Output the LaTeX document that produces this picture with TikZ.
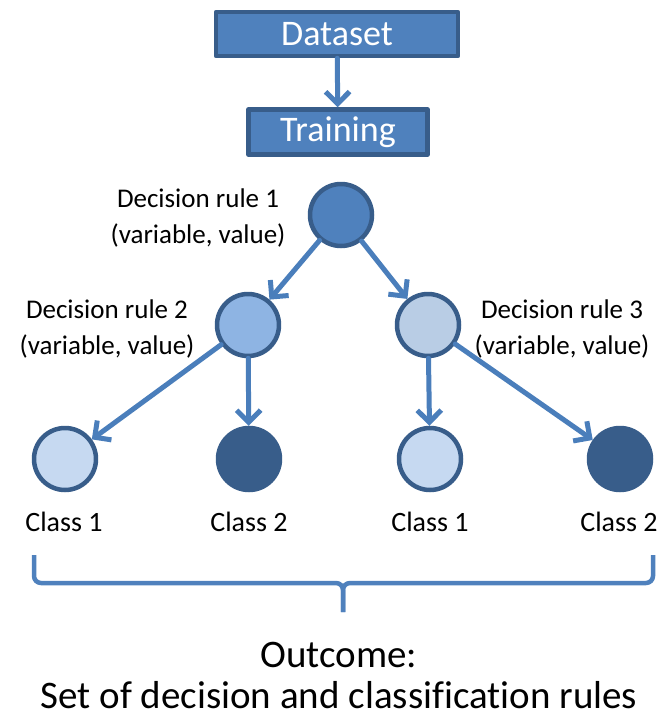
\documentclass[tikz,border=0pt]{standalone}
\usepackage{fontspec}
\setmainfont[Ligatures=NoCommon]{Carlito}
\usetikzlibrary{arrows.meta}

\definecolor{boxblue}{HTML}{4F81BD}
\definecolor{rimblue}{HTML}{385D8A}
\definecolor{linkblue}{HTML}{4A7EBB}
\definecolor{rootblue}{HTML}{4F81BD}
\definecolor{leftblue}{HTML}{8EB4E3}
\definecolor{rightblue}{HTML}{B9CDE5}
\definecolor{paleblue}{HTML}{C6D9F1}
\definecolor{darkblue}{HTML}{385D8A}

\begin{document}
\begin{tikzpicture}[
            x = 1pt, y = -1pt, % one unit per pixel, y runs downwards
            > = {Straight Barb[length=12pt, width=24pt]}, % open arrow head
            line cap = round,
            line join = round
        ]

        \tikzset{
            block/.style = {
                draw = rimblue,
                fill = boxblue,
                line width = 4.5pt,
                text = white,
                inner sep = 0pt,
                font = \fontsize{36}{40}\selectfont
            },
            rulenode/.style = {
                circle,
                draw = rimblue,
                line width = 4.5pt,
                minimum size = 62pt,
                inner sep = 0pt
            },
            leafnode/.style = {
                circle,
                line width = 4.5pt,
                minimum size = 62pt,
                inner sep = 0pt
            },
            link/.style = {->, draw = linkblue, line width = 5pt},
            tag/.style = {align = center, font = \fontsize{27}{36}\selectfont},
            classtag/.style = {font = \fontsize{28}{32}\selectfont}
        }

        \useasboundingbox (0,0) rectangle (668,718);

        % data and training boxes
        \node[block, minimum width = 242pt, minimum height = 44pt] (data) at (337,34) {Dataset};
        \node[block, minimum width = 179pt, minimum height = 45pt] (train) at (338,132) {Training};

        % decision rules
        \node[rulenode, fill = rootblue] (r1) at (341,215) {};
        \node[rulenode, fill = leftblue] (r2) at (248,325) {};
        \node[rulenode, fill = rightblue] (r3) at (428,325) {};

        % class leaves
        \node[leafnode, draw = rimblue, fill = paleblue] (c1) at (65,459) {};
        \node[leafnode, draw = darkblue, fill = darkblue] (c2) at (249,459) {};
        \node[leafnode, draw = rimblue, fill = paleblue] (c3) at (430,459) {};
        \node[leafnode, draw = darkblue, fill = darkblue] (c4) at (620,459) {};

        \node[tag] (t1) at (198,218) {Decision rule 1\\(variable, value)};
        \node[tag] (t2) at (107,329) {Decision rule 2\\(variable, value)};
        \node[tag] (t3) at (562,329) {Decision rule 3\\(variable, value)};

        \node[classtag] (k1) at (64,522) {Class 1};
        \node[classtag] (k2) at (249,522) {Class 2};
        \node[classtag] (k3) at (430,522) {Class 1};
        \node[classtag] (k4) at (619,522) {Class 2};

        \draw[link] (data) -- (train);
        \draw[link] (r1) -- (r2);
        \draw[link] (r1) -- (r3);
        \draw[link] (r2) -- (c1);
        \draw[link] (r2) -- (c2);
        \draw[link] (r3) -- (c3);
        \draw[link] (r3) -- (c4);

        % bracket under the leaves
        \coordinate (bl) at (34,555);
        \coordinate (br) at (653,555);
        \coordinate (bm) at (343,583);
        \coordinate (bt) at (343,612);
        \draw[draw = boxblue, line width = 4.5pt, line cap = butt, rounded corners = 7pt]
            (bl) -- (bl |- bm) -- (bm) -- (bt);
        \draw[draw = boxblue, line width = 4.5pt, line cap = butt, rounded corners = 7pt]
            (br) -- (br |- bm) -- (bm) -- (bt);

        \node[align = center, font = \fontsize{39}{41}\selectfont] (out) at (339,675)
            {Outcome:\\Set of decision and classification rules};
    \end{tikzpicture}
\end{document}
